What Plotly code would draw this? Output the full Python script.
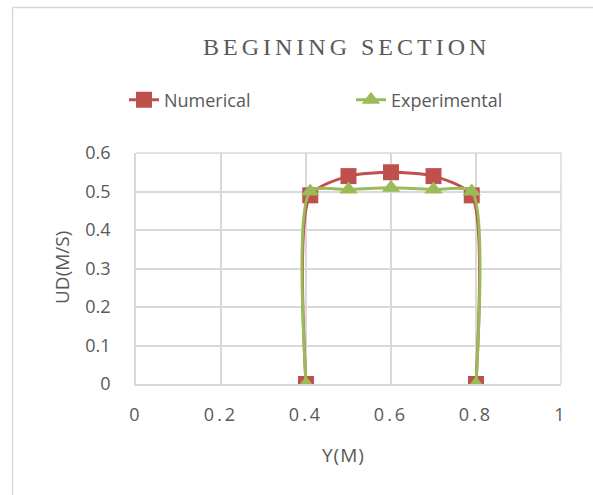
import plotly.graph_objects as go

# Data
y_pos = [0.40, 0.41, 0.50, 0.60, 0.70, 0.79, 0.80]
numerical = [0.0, 0.49, 0.54, 0.55, 0.54, 0.49, 0.0]
experimental = [0.0, 0.50, 0.505, 0.51, 0.505, 0.50, 0.0]
x_ticks = [0, 0.2, 0.4, 0.6, 0.8, 1]
x_ticktext = ["0", "0.2", "0.4", "0.6", "0.8", "1"]
y_ticks = [0, 0.1, 0.2, 0.3, 0.4, 0.5, 0.6]
y_ticktext = ["0", "0.1", "0.2", "0.3", "0.4", "0.5", "0.6"]

RED = "#C0504D"
GREEN = "#9BBB59"
TXT = "#595959"
GRID = "#D9D9D9"
FONT = "Open Sans, Liberation Sans, sans-serif"

W, H = 593, 495
L, R, T, B = 136, 32, 153, 111
pw = W - L - R
ph = H - T - B

def px2x(px):
    return (px - L) / pw

def py2y(py):
    return (H - B - py) / ph

fig = go.Figure()
fig.add_trace(go.Scatter(
    x=y_pos, y=numerical, name="Numerical", mode="lines+markers",
    line=dict(color=RED, width=3, shape="spline", smoothing=0.7),
    marker=dict(symbol="square", size=16, color=RED),
))
fig.add_trace(go.Scatter(
    x=y_pos, y=experimental, name="Experimental", mode="lines+markers",
    line=dict(color=GREEN, width=3, shape="spline", smoothing=0.7),
    marker=dict(symbol="triangle-up", size=16, color=GREEN),
))

spaced = ['<span style="letter-spacing:3px">' + t + '</span>' for t in x_ticktext]

fig.update_layout(
    width=W, height=H,
    margin=dict(l=L, r=R, t=T, b=B),
    paper_bgcolor="white", plot_bgcolor="white",
    font=dict(family=FONT, size=18, color=TXT),
    showlegend=True,
    legend=dict(orientation="h", x=px2x(124), y=py2y(100), xanchor="left", yanchor="middle",
                font=dict(size=18, color=TXT), bgcolor="rgba(0,0,0,0)",
                entrywidth=182, entrywidthmode="pixels"),
    xaxis=dict(range=[0, 1], tickvals=x_ticks, ticktext=spaced, showgrid=True, gridcolor=GRID,
               gridwidth=1.5, zeroline=False, showline=True, linecolor=GRID, linewidth=1.5,
               ticks="", ticklabelstandoff=14, tickfont=dict(size=18, color=TXT), mirror=False),
    yaxis=dict(range=[0, 0.6], tickvals=y_ticks, ticktext=y_ticktext, showgrid=True, gridcolor=GRID,
               gridwidth=1.5, zeroline=False, showline=True, linecolor=GRID, linewidth=1.5,
               ticks="", ticklabelstandoff=20, tickfont=dict(size=18, color=TXT)),
    shapes=[
        dict(type="rect", xref="paper", yref="paper",
             x0=px2x(12.5), x1=px2x(700), y0=py2y(600), y1=py2y(7.5),
             line=dict(color=GRID, width=1.5), fillcolor="rgba(0,0,0,0)", layer="below"),
        dict(type="line", xref="paper", yref="paper", x0=1, x1=1, y0=0, y1=1,
             line=dict(color=GRID, width=1.5)),
        dict(type="line", xref="paper", yref="paper", x0=0, x1=1, y0=1, y1=1,
             line=dict(color=GRID, width=1.5)),
    ],
    annotations=[
        dict(text='<span style="letter-spacing:4px">BEGINING SECTION</span>', xref="paper", yref="paper",
             x=px2x(346), y=py2y(47), xanchor="center", yanchor="middle", showarrow=False,
             font=dict(family="Liberation Serif, Times New Roman, serif", size=24, color=TXT)),
        dict(text="UD(M/S)", xref="paper", yref="paper", x=px2x(62), y=py2y(268),
             xanchor="center", yanchor="middle", textangle=-90, showarrow=False,
             font=dict(size=19, color=TXT)),
        dict(text='<span style="letter-spacing:1px">Y(M)</span>', xref="paper", yref="paper",
             x=px2x(343), y=py2y(455),
             xanchor="center", yanchor="middle", showarrow=False,
             font=dict(size=19, color=TXT)),
    ],
)

fig.write_html("out.html")
